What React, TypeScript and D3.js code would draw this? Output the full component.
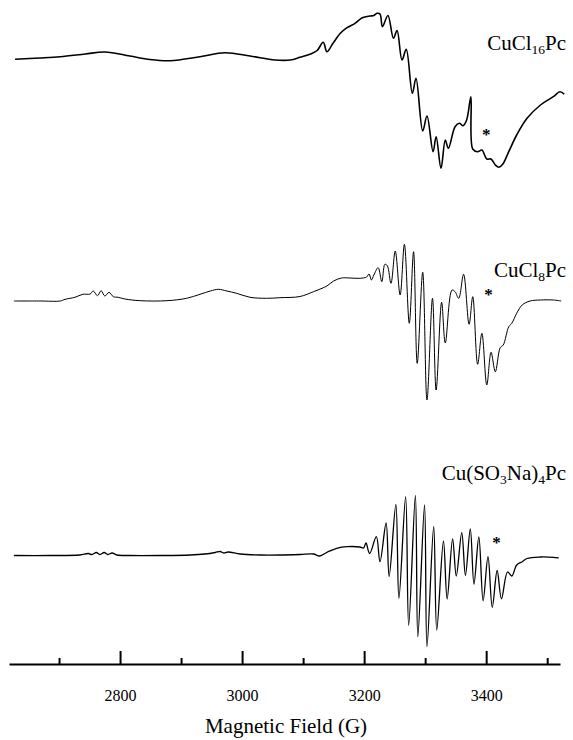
import React, { useEffect, useRef } from 'react';
import * as d3 from 'd3';

type Pt = [number, number];

// [field (G), signal (arb. units, 0 = trace baseline)]
const cuCl16Pc: Pt[] = [
  [2628, -0.3], [2669, 1], [2702, 2.3], [2743, 5], [2775, 7], [2816, 3], [2849, -0.5], [2882, -1.7],
  [2931, 2.3], [2972, 6.3], [3013, 3], [3054, -1], [3079, -1], [3095, 1.7], [3111, 4.7], [3123, 8.5],
  [3133, 16.7], [3139, 7.3], [3149, 15.7], [3161, 25.7], [3172, 31.3], [3185, 35.7], [3197, 41.3],
  [3210, 43], [3216, 43.5], [3221, 45.7], [3226, 45], [3230, 32.3], [3239, 43.5], [3248, 20.7],
  [3254, 28.5], [3262, -1], [3269, 9.7], [3279, -34.3], [3285, -19.3], [3296, -72], [3303, -57],
  [3313, -92.7], [3318, -77.7], [3326, -109.3], [3333, -81], [3338, -89.3], [3349, -67.7], [3356, -64.3],
  [3362, -66.7], [3368, -61], [3375, -37.7], [3378, -90], [3386, -92.7], [3393, -91], [3401, -100],
  [3408, -100], [3415, -106], [3421, -108.3], [3427, -105.3], [3437, -92.7], [3450, -76], [3467, -59.3],
  [3489, -46], [3510, -37.7], [3521, -32.7], [3528, -35.3],
];

const cuCl8Pc: Pt[] = [
  [2626, 0], [2669, 0], [2702, 0], [2710, 1.7], [2726, 3.7], [2739, 6.7], [2751, 7], [2756, 10],
  [2763, 5.3], [2769, 10.3], [2775, 5], [2782, 8.7], [2789, 4.3], [2797, 3.7], [2808, 2], [2833, 0.3],
  [2877, 0.3], [2909, 2.7], [2931, 6.7], [2948, 10], [2961, 11.7], [2975, 10], [2991, 7.7], [3013, 3.7],
  [3040, 2.7], [3062, 3.3], [3095, 4.5], [3117, 9.3], [3131, 12.7], [3139, 15], [3150, 20], [3163, 23],
  [3177, 23], [3193, 22.7], [3204, 24], [3208, 27], [3212, 21], [3216, 26], [3223, 33.3], [3229, 19.3],
  [3234, 36.7], [3238, 35.3], [3244, 17.7], [3251, 50], [3259, 6], [3266, 56.7], [3274, -22.3],
  [3281, 49.3], [3287, -62.3], [3296, 28.7], [3303, -99], [3312, 2.7], [3318, -89], [3327, -1.3],
  [3333, -42], [3344, 11], [3349, 9.3], [3355, 2.7], [3363, 26.7], [3372, -23.3], [3378, 4.3],
  [3386, -63.3], [3393, -32.3], [3401, -84], [3408, -51.3], [3415, -70.7], [3423, -46.7], [3428, -44],
  [3437, -25.7], [3442, -22.3], [3450, -12.3], [3459, -4], [3472, 0], [3489, 1], [3510, 1], [3523, 0],
];

const cuSO3Na4Pc: Pt[] = [
  [2626, 0], [2685, 0], [2734, 0.5], [2748, 2], [2754, 1], [2761, 3], [2767, 1], [2774, 3], [2780, 1],
  [2787, 2.5], [2795, 0.5], [2816, 0], [2866, 0], [2915, 0.5], [2939, 1.5], [2956, 3], [2964, 4],
  [2970, 2.5], [2977, 3.5], [2997, 1.5], [3030, 0.5], [3062, 0.5], [3095, 1], [3117, 1.5], [3127, -0.5],
  [3140, 3.5], [3155, 7.2], [3172, 8.8], [3193, 8.5], [3199, 7.5], [3203, 12.5], [3209, 2], [3220, 18.8],
  [3226, -6.2], [3236, 32.5], [3241, -20.8], [3252, 51], [3257, -42.8], [3268, 58.8], [3273, -69.8],
  [3284, 60], [3288, -81.2], [3299, 50.5], [3303, -91.2], [3314, 29.2], [3319, -74.5], [3330, 14.5],
  [3336, -43.5], [3345, 16.7], [3351, -20.5], [3360, 22.8], [3366, -20], [3374, 26.7], [3380, -28.5],
  [3388, 18.5], [3395, -45.3], [3403, -1.2], [3410, -51.8], [3418, -15], [3425, -43.3], [3435, -16.5],
  [3442, -20.5], [3450, -9.5], [3459, -6.2], [3467, -3], [3489, -1.5], [3510, -1.8], [3519, -2.3],
];

// asterisk marks [field, signal]
const stars: Pt[] = [[3400, -72.5], [3404, 9.7], [3417, 15.9]];

// sample names, [text, subscript?]
const labels: [string, boolean][][] = [
  [['CuCl', false], ['16', true], ['Pc', false]],
  [['CuCl', false], ['8', true], ['Pc', false]],
  [['Cu(SO', false], ['3', true], ['Na)', false], ['4', true], ['Pc', false]],
];

const fieldExtent = [2618, 3521];
const majorTicks = [2800, 3000, 3200, 3400];
const minorTicks = [2700, 2900, 3100, 3300, 3500];
const xTitle = 'Magnetic Field (G)';

const FONT = '"Liberation Serif", "Times New Roman", serif';

export default function App() {
  const ref = useRef<SVGSVGElement>(null);

  useEffect(() => {
    const svg = d3.select(ref.current);
    svg.selectAll('*').remove();

    const x = d3.scaleLinear().domain(fieldExtent).range([9, 560]);
    const amp = d3.scaleLinear().domain([0, 100]).range([0, -100]);

    const line = d3.line<Pt>()
      .x(d => x(d[0]))
      .y(d => amp(d[1]))
      .curve(d3.curveCatmullRom.alpha(0.5));

    const traces = [
      { data: cuCl16Pc, base: 59, width: 1.6, labelY: 50 },
      { data: cuCl8Pc, base: 301, width: 1.0, labelY: 276.5 },
      { data: cuSO3Na4Pc, base: 555.5, width: 1.3, labelY: 479.5 },
    ];

    traces.forEach((t, i) => {
      const g = svg.append('g').attr('transform', `translate(0,${t.base})`);
      g.append('path')
        .datum(t.data)
        .attr('d', line)
        .attr('fill', 'none')
        .attr('stroke', '#000')
        .attr('stroke-width', t.width)
        .attr('stroke-linejoin', 'round');

      g.append('text')
        .attr('x', x(stars[i][0]))
        .attr('y', amp(stars[i][1]) + 8.5)
        .attr('text-anchor', 'middle')
        .attr('font-family', FONT)
        .attr('font-weight', 'bold')
        .attr('font-size', 17)
        .text('*');

      const label = svg.append('text')
        .attr('x', 566)
        .attr('y', t.labelY)
        .attr('text-anchor', 'end')
        .attr('font-family', FONT)
        .attr('fill', '#000');
      let shift = 0;
      labels[i].forEach(([s, sub]) => {
        const target = sub ? 4 : 0;
        label.append('tspan')
          .attr('dy', target - shift)
          .attr('font-size', sub ? 13.5 : 21)
          .text(s);
        shift = target;
      });
    });

    // axis: major ticks with labels, minor ticks without
    const axisG = svg.append('g').attr('transform', 'translate(0,664)');
    axisG.call(
      d3.axisBottom(x)
        .tickValues(majorTicks)
        .tickSize(-13)
        .tickSizeOuter(0)
        .tickPadding(26)
        .tickFormat(d3.format('d'))
    );
    const minorG = svg.append('g').attr('transform', 'translate(0,664)');
    minorG.call(
      d3.axisBottom(x)
        .tickValues(minorTicks)
        .tickSize(-6)
        .tickSizeOuter(0)
        .tickFormat(() => '')
    );
    minorG.select('.domain').remove();

    svg.selectAll('.tick line, .domain')
      .attr('stroke', '#000')
      .attr('stroke-width', 2);
    axisG.attr('font-family', FONT).attr('font-size', 16);
    axisG.selectAll('text')
      .attr('font-family', FONT)
      .attr('font-size', 16)
      .attr('fill', '#000');

    svg.append('text')
      .attr('x', 286)
      .attr('y', 733)
      .attr('text-anchor', 'middle')
      .attr('font-family', FONT)
      .attr('font-size', 21)
      .text(xTitle);
  }, []);

  return (
    <svg
      ref={ref}
      width={573}
      height={740}
      style={{ position: 'absolute', left: 0, top: 0, background: '#fff' }}
    />
  );
}
